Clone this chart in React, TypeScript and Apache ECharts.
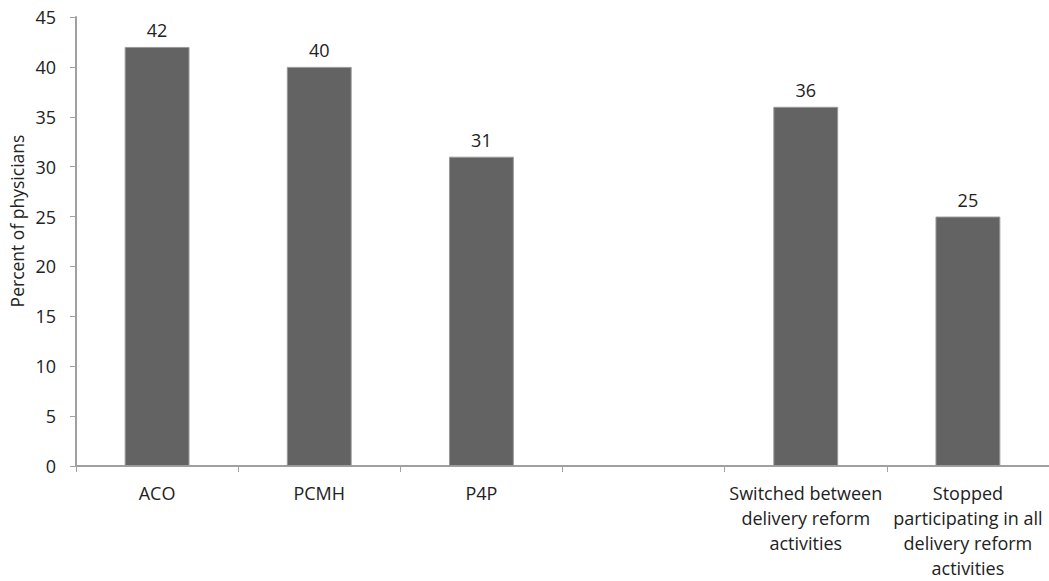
import React, { useEffect, useRef } from "react";
import * as echarts from "echarts";

const categories = [
  "ACO",
  "PCMH",
  "P4P",
  "",
  "Switched between\ndelivery reform\nactivities",
  "Stopped\nparticipating in all\ndelivery reform\nactivities",
];
const values: (number | null)[] = [42, 40, 31, null, 36, 25];
const yMin = 0;
const yMax = 45;
const yInterval = 5;
const yName = "Percent of physicians";

export default function App() {
  const ref = useRef<HTMLDivElement>(null);
  useEffect(() => {
    if (!ref.current) return;
    const chart = echarts.init(ref.current, undefined, { renderer: "svg" });
    const font = "Open Sans";
    chart.setOption({
      animation: false,
      grid: { left: 76, top: 17, width: 976, height: 449, containLabel: false },
      graphic: [
        {
          type: "text",
          x: 17,
          y: 221,
          rotation: Math.PI / 2,
          style: {
            text: yName,
            fill: "#222",
            font: `17.5px "${font}"`,
            align: "center",
            verticalAlign: "middle",
          },
        },
      ],
      xAxis: {
        type: "category",
        data: categories,
        boundaryGap: true,
        axisLine: { lineStyle: { color: "#a0a0a0", width: 2 } },
        axisTick: { show: true, length: 6, alignWithLabel: false, lineStyle: { color: "#a0a0a0", width: 1 } },
        axisLabel: {
          interval: 0,
          color: "#222",
          fontFamily: font,
          fontSize: 18,
          lineHeight: 25,
          margin: 14,
        },
      },
      yAxis: {
        type: "value",
        min: yMin,
        max: yMax,
        interval: yInterval,
        splitLine: { show: false },
        axisLine: { show: true, lineStyle: { color: "#a0a0a0", width: 2 } },
        axisTick: { show: true, length: 6, lineStyle: { color: "#a0a0a0", width: 1 } },
        axisLabel: { color: "#222", fontFamily: font, fontSize: 18, margin: 20 },
      },
      series: [
        {
          type: "bar",
          data: values,
          barWidth: "40%",
          itemStyle: { color: "#636363", borderColor: "#9a9a9a", borderWidth: 1 },
          label: {
            show: true,
            position: "top",
            distance: 8,
            color: "#222",
            fontFamily: font,
            fontSize: 18,
          },
        },
      ],
    });
    return () => chart.dispose();
  }, []);
  return (
    <div
      ref={ref}
      style={{ position: "absolute", left: 0, top: 0, width: 1049, height: 581 }}
    />
  );
}
